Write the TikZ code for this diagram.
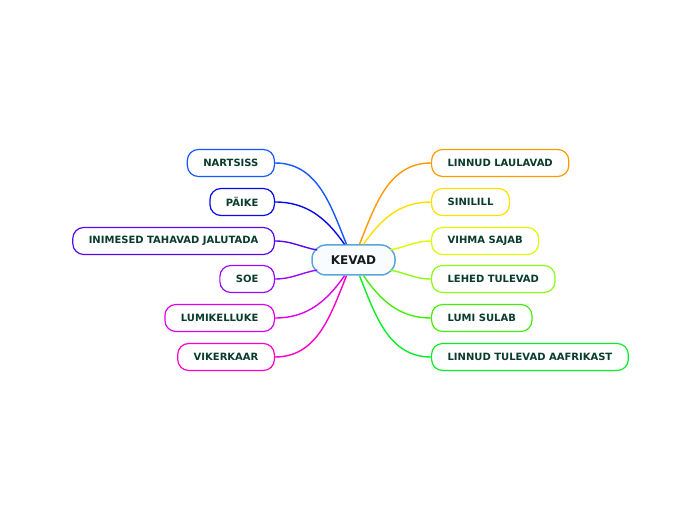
\documentclass[tikz,border=0pt]{standalone}
\usepackage{fontspec}
\setmainfont{DejaVu Sans}
\usepackage{tikz}
\usetikzlibrary{positioning}

\definecolor{txtgreen}{RGB}{10,60,45}
\definecolor{rootline}{RGB}{90,165,220}
\definecolor{rootfill}{RGB}{248,252,255}
\definecolor{cnarts}{RGB}{22,88,255}
\definecolor{cpaike}{RGB}{10,10,230}
\definecolor{cinim}{RGB}{88,10,238}
\definecolor{csoe}{RGB}{155,10,255}
\definecolor{clumik}{RGB}{222,0,236}
\definecolor{cviker}{RGB}{255,0,200}
\definecolor{claul}{RGB}{255,153,0}
\definecolor{csini}{RGB}{255,222,0}
\definecolor{cvihma}{RGB}{222,250,0}
\definecolor{clehed}{RGB}{140,250,20}
\definecolor{clumi}{RGB}{68,238,10}
\definecolor{ctulev}{RGB}{10,238,40}

\begin{document}
\begin{tikzpicture}[
  x=1pt, y=1pt,
  root/.style={rectangle, rounded corners=14pt, draw=rootline, fill=rootfill, line width=1.5pt,
               minimum width=83pt, minimum height=30pt, inner sep=0pt,
               font=\fontsize{12}{14}\selectfont\bfseries, text=black!90},
  leaf/.style={rectangle, rounded corners=11pt, draw=#1, fill=white, line width=1.2pt,
               minimum height=27pt, inner xsep=16pt, inner ysep=0pt,
               font=\fontsize{10}{12}\selectfont\bfseries, text=txtgreen},
  branch/.style={draw=#1, line width=1.4pt}
]
\useasboundingbox (0,0) rectangle (697,520);

\node[root] (kevad) at (353.5,260) {KEVAD};

% left side
\node[leaf=cnarts, anchor=east] (nartsiss) at (275,357) {NARTSISS};
\node[leaf=cpaike, anchor=east] (paike)    at (275,318) {PÄIKE};
\node[leaf=cinim,  anchor=east] (inimesed) at (275,279) {INIMESED TAHAVAD JALUTADA};
\node[leaf=csoe,   anchor=east] (soe)      at (275,241) {SOE};
\node[leaf=clumik, anchor=east] (lumik)    at (275,202) {LUMIKELLUKE};
\node[leaf=cviker, anchor=east] (viker)    at (275,163) {VIKERKAAR};

% right side
\node[leaf=claul,  anchor=west] (laulavad) at (431,357) {LINNUD LAULAVAD};
\node[leaf=csini,  anchor=west] (sinilill) at (431,318) {SINILILL};
\node[leaf=cvihma, anchor=west] (vihma)    at (431,279) {VIHMA SAJAB};
\node[leaf=clehed, anchor=west] (lehed)    at (431,241) {LEHED TULEVAD};
\node[leaf=clumi,  anchor=west] (lumi)     at (431,202) {LUMI SULAB};
\node[leaf=ctulev, anchor=west] (tulevad)  at (431,163) {LINNUD TULEVAD AAFRIKAST};

\draw[branch=cnarts] ([xshift=-7pt]kevad.north) to[out=112,in=0] (nartsiss.east);
\draw[branch=cpaike] ([xshift=-9pt]kevad.north) to[out=125,in=0] (paike.east);
\draw[branch=cinim]  ([xshift=6pt,yshift=10pt]kevad.west) to[out=170,in=0] (inimesed.east);
\draw[branch=csoe]   ([xshift=6pt,yshift=-10pt]kevad.west) to[out=190,in=0] (soe.east);
\draw[branch=clumik] ([xshift=-9pt]kevad.south) to[out=235,in=0] (lumik.east);
\draw[branch=cviker] ([xshift=-7pt]kevad.south) to[out=248,in=0] (viker.east);

\draw[branch=claul]  ([xshift=6pt]kevad.north) to[out=68,in=180] (laulavad.west);
\draw[branch=csini]  ([xshift=10pt]kevad.north) to[out=55,in=180] (sinilill.west);
\draw[branch=cvihma] ([xshift=-6pt,yshift=10pt]kevad.east) to[out=10,in=180] (vihma.west);
\draw[branch=clehed] ([xshift=-6pt,yshift=-10pt]kevad.east) to[out=-10,in=180] (lehed.west);
\draw[branch=clumi]  ([xshift=10pt]kevad.south) to[out=-55,in=180] (lumi.west);
\draw[branch=ctulev] ([xshift=6pt]kevad.south) to[out=-68,in=180] (tulevad.west);
\end{tikzpicture}
\end{document}
